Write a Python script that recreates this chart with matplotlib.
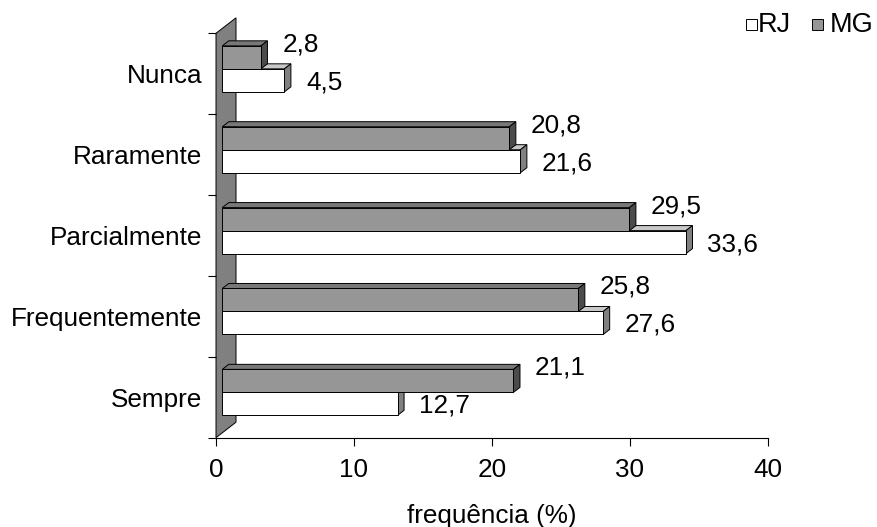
import matplotlib
matplotlib.use("Agg")
import matplotlib.pyplot as plt
from matplotlib.patches import Polygon, Rectangle

plt.rcParams['font.family'] = ['Liberation Sans', 'DejaVu Sans']

# categories listed bottom to top
categorias = ['Sempre', 'Frequentemente', 'Parcialmente', 'Raramente', 'Nunca']
rj = [12.7, 27.6, 33.6, 21.6, 4.5]
mg = [21.1, 25.8, 29.5, 20.8, 2.8]
xticks = [0, 10, 20, 30, 40]

# colours for front / top / side faces
cor_rj = ('#ffffff', '#c8c8c8', '#808080')
cor_mg = ('#969696', '#787878', '#4b4b4b')
cor_parede = '#808080'
lw = 0.7
fs = 18.8

fig = plt.figure(figsize=(8.78, 5.27), dpi=100)
ax = fig.add_axes([216 / 878, (527 - 437.7) / 527, 552 / 878, 404.4 / 527])
ax.set_xlim(0, 40)
ax.set_ylim(0, 5)

# depth direction of the 3d box, in data units
px_x = 552 / 40.0
px_y = 404.4 / 5.0
wdx, wdy = 20 / px_x, 15.5 / px_y

# back wall
parede = Polygon([(0, 0), (0, 5), (wdx, 5 + wdy), (wdx, wdy)], closed=True,
                 facecolor=cor_parede, edgecolor='black', lw=lw, clip_on=False, zorder=1)
ax.add_patch(parede)

t0, t1 = 0.315, 0.64
fx, fy = t0 * wdx, t0 * wdy
dx, dy = (t1 - t0) * wdx, (t1 - t0) * wdy
h = 23 / px_y


def barra3d(x0, y0, v, cores):
    x1 = x0 + v
    frente, topo, lado = cores
    topo_p = Polygon([(x0, y0 + h), (x1, y0 + h), (x1 + dx, y0 + h + dy), (x0 + dx, y0 + h + dy)],
                     closed=True, facecolor=topo, edgecolor='black', lw=lw, clip_on=False, zorder=2)
    lado_p = Polygon([(x1, y0), (x1 + dx, y0 + dy), (x1 + dx, y0 + h + dy), (x1, y0 + h)],
                     closed=True, facecolor=lado, edgecolor='black', lw=lw, clip_on=False, zorder=2)
    frente_p = Rectangle((x0, y0), v, h, facecolor=frente, edgecolor='black', lw=lw,
                         clip_on=False, zorder=2)
    for p in (topo_p, lado_p, frente_p):
        ax.add_patch(p)


for i in range(len(categorias)):
    c = i + 0.5 + fy
    # RJ first, MG rests on top of it
    barra3d(fx, c - h, rj[i], cor_rj)
    barra3d(fx, c, mg[i], cor_mg)
    off = 15 / px_x
    ax.text(fx + mg[i] + dx + off, c + h + 1.5 / px_y, f'{mg[i]:.1f}'.replace('.', ','),
            fontsize=fs, ha='left', va='center')
    ax.text(fx + rj[i] + dx + off, c - h / 2 - 2 / px_y, f'{rj[i]:.1f}'.replace('.', ','),
            fontsize=fs, ha='left', va='center')

for s in ('top', 'right', 'left'):
    ax.spines[s].set_visible(False)
ax.spines['bottom'].set_linewidth(0.8)

ax.set_xticks(xticks)
ax.set_xticklabels([str(x) for x in xticks], fontsize=fs)
ax.set_yticks(range(6))
ax.set_yticklabels([])
ax.set_yticks([i + 0.5 for i in range(5)], categorias, minor=True, fontsize=fs)
ax.tick_params(axis='both', which='major', direction='out', length=5.8, width=0.8)
ax.tick_params(axis='x', pad=9)
ax.tick_params(axis='y', which='minor', length=0, pad=10)
ax.set_xlabel('frequência (%)', fontsize=fs, labelpad=16)

# legend
for xq, xt, cor, nome in [(746, 758, cor_rj[0], 'RJ'), (812, 830, cor_mg[0], 'MG')]:
    fig.patches.append(Rectangle((xq / 878, 1 - 29.5 / 527), 11 / 878, 11 / 527,
                                 transform=fig.transFigure, facecolor=cor,
                                 edgecolor='black', lw=0.7))
    fig.text(xt / 878, 1 - 25 / 527, nome, fontsize=19.5, ha='left', va='center')

fig.savefig('out.png', dpi=100, facecolor='white')
